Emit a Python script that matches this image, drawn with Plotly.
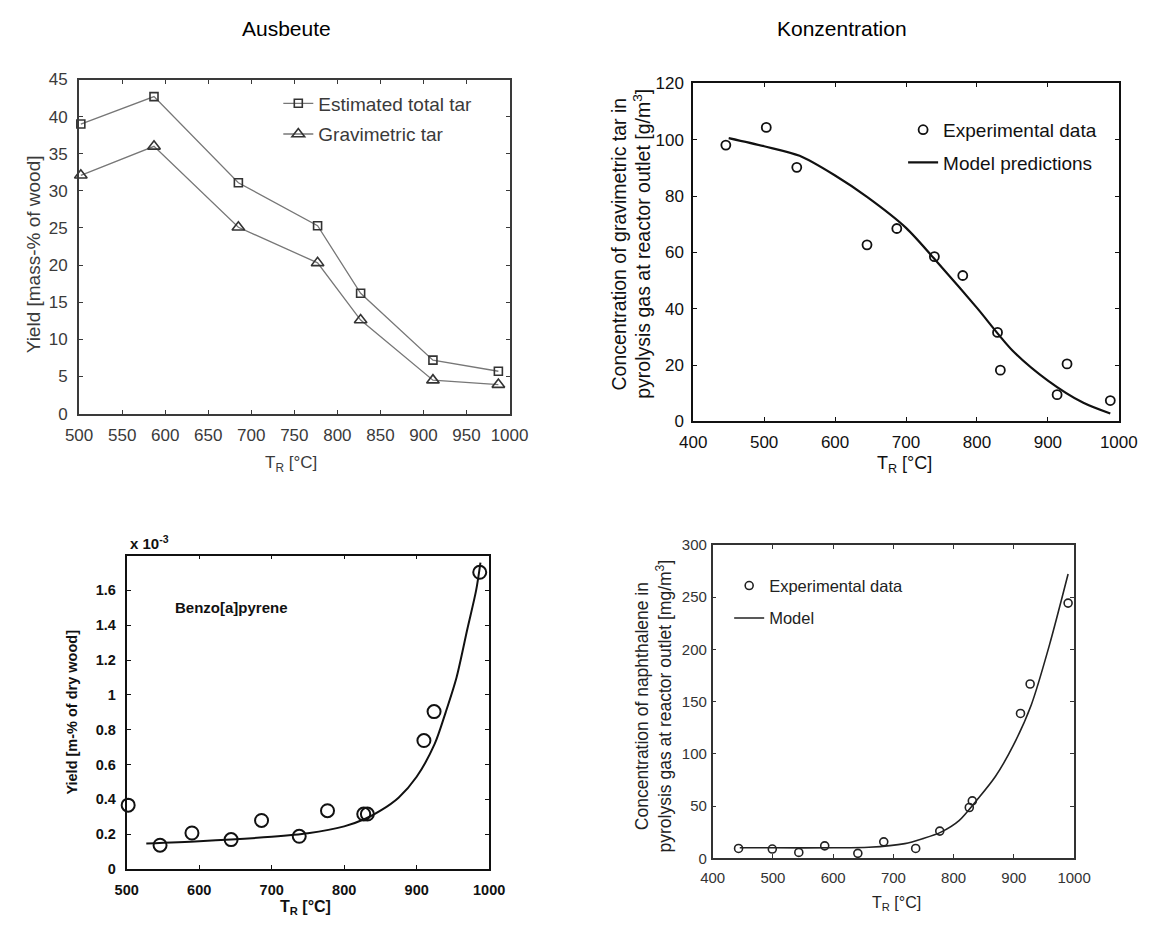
import plotly.graph_objects as go

W, H = 1166, 929

# ---- Ausbeute: tar yield vs reactor temperature ----
yield_T = [502, 587, 685, 777, 827, 911, 987]
total_tar = [39.0, 42.7, 31.1, 25.3, 16.2, 7.2, 5.7]
grav_tar = [32.1, 36.0, 25.1, 20.3, 12.6, 4.5, 3.9]

# ---- Konzentration: gravimetric tar concentration ----
conc_T = [446, 503, 546, 645, 687, 740, 780, 829, 833, 913, 927, 988]
conc_exp = [98.1, 104.4, 90.2, 62.7, 68.5, 58.5, 51.8, 31.6, 18.2, 9.5, 20.4, 7.4]
conc_model_T = [450, 500, 550, 600, 645, 700, 750, 800, 850, 900, 950, 988]
conc_model = [100.6, 97.7, 94.3, 87.3, 79.7, 68.7, 54.8, 40.3, 25.2, 14.5, 6.6, 2.8]

# ---- Benzo[a]pyrene yield (x 10^-3 m-% of dry wood) ----
bap_T = [502, 546, 590, 644, 686, 738, 777, 827, 832, 910, 924, 987]
bap_exp = [0.367, 0.137, 0.207, 0.169, 0.279, 0.188, 0.335, 0.316, 0.316, 0.738, 0.904, 1.704]
bap_model_T = [527, 600, 700, 750, 800, 830, 850, 875, 900, 925, 940, 955, 970, 982, 988]
bap_model = [0.147, 0.160, 0.185, 0.205, 0.245, 0.290, 0.335, 0.410, 0.530, 0.720, 0.900, 1.100, 1.380, 1.600, 1.760]

# ---- Naphthalene concentration (mg/m3) ----
naph_T = [443, 499, 543, 586, 641, 684, 737, 777, 826, 831, 911, 927, 990]
naph_exp = [9.4, 8.8, 5.6, 11.9, 4.7, 15.7, 9.4, 26.0, 48.6, 54.9, 138.6, 166.8, 244.2]
naph_model_T = [445, 500, 600, 659, 719, 749, 779, 809, 839, 869, 899, 929, 959, 990]
naph_model = [10, 10, 10, 10.5, 14, 18.8, 25, 36, 56, 78, 108, 147, 204, 272]

FONT = "Liberation Sans, Arial, sans-serif"


def px_x(x):
    return x / W


def px_y(y):
    return 1 - y / H


fig = go.Figure()

# Panel 1
fig.add_trace(go.Scatter(
    x=yield_T, y=total_tar, mode="lines+markers", name="Estimated total tar",
    line=dict(color="#777", width=1.3),
    marker=dict(symbol="square-open", size=8, color="#333", line=dict(width=1.6)),
    xaxis="x", yaxis="y", legend="legend", legendgroup="a", cliponaxis=False))
fig.add_trace(go.Scatter(
    x=yield_T, y=grav_tar, mode="lines+markers", name="Gravimetric tar",
    line=dict(color="#777", width=1.3),
    marker=dict(symbol="triangle-up-open", size=11, color="#333", line=dict(width=1.6)),
    xaxis="x", yaxis="y", legend="legend", legendgroup="b", cliponaxis=False))

# Panel 2
fig.add_trace(go.Scatter(
    x=conc_T, y=conc_exp, mode="markers", name="Experimental data",
    marker=dict(symbol="circle-open", size=9, color="#111", line=dict(width=1.8)),
    xaxis="x2", yaxis="y2", legend="legend2", legendgroup="c", cliponaxis=False))
fig.add_trace(go.Scatter(
    x=conc_model_T, y=conc_model, mode="lines", name="Model predictions",
    line=dict(color="#111", width=2.2, shape="spline", smoothing=0.8),
    xaxis="x2", yaxis="y2", legend="legend2", legendgroup="d"))

# Panel 3
fig.add_trace(go.Scatter(
    x=bap_T, y=bap_exp, mode="markers", name="Experimental data",
    marker=dict(symbol="circle-open", size=13, color="#111", line=dict(width=2)),
    xaxis="x3", yaxis="y3", showlegend=False, cliponaxis=False))
fig.add_trace(go.Scatter(
    x=bap_model_T, y=bap_model, mode="lines", name="Model",
    line=dict(color="#111", width=2, shape="spline", smoothing=0.8),
    xaxis="x3", yaxis="y3", showlegend=False))

# Panel 4
fig.add_trace(go.Scatter(
    x=naph_T, y=naph_exp, mode="markers", name="Experimental data",
    marker=dict(symbol="circle-open", size=8, color="#222", line=dict(width=1.6)),
    xaxis="x4", yaxis="y4", legend="legend4", legendgroup="e", cliponaxis=False))
fig.add_trace(go.Scatter(
    x=naph_model_T, y=naph_model, mode="lines", name="Model",
    line=dict(color="#222", width=1.6, shape="spline", smoothing=0.8),
    xaxis="x4", yaxis="y4", legend="legend4", legendgroup="f"))


def axis(dom, rng, tickvals, color, size, lw=1.6, standoff=6, bold=False, anchor=None):
    return dict(
        domain=dom, range=rng, tickvals=tickvals, anchor=anchor,
        showline=True, mirror="ticks", ticks="inside", ticklen=4, tickwidth=1.2,
        linecolor=color, linewidth=lw, tickcolor=color,
        showgrid=False, zeroline=False, ticklabelstandoff=standoff,
        tickfont=dict(family=FONT, size=size, color=color,
                      weight="bold" if bold else "normal"),
    )


fig.update_layout(
    width=W, height=H, autosize=False,
    margin=dict(l=0, r=0, t=0, b=0),
    paper_bgcolor="white", plot_bgcolor="white",
    font=dict(family=FONT),
    xaxis=axis([px_x(67), px_x(510)], [500, 1000], list(range(500, 1001, 50)),
               "#3a3a3a", 17, lw=2, standoff=5, anchor="y"),
    yaxis=axis([px_y(413), px_y(72)], [0, 45], list(range(0, 46, 5)),
               "#3a3a3a", 17, lw=2, standoff=6, anchor="x"),
    xaxis2=axis([px_x(699), px_x(1137)], [400, 1000], list(range(400, 1001, 100)),
                "#111", 17, lw=1.8, standoff=4, anchor="y2"),
    yaxis2=axis([px_y(421), px_y(76)], [0, 120], list(range(0, 121, 20)),
                "#111", 17, lw=1.8, standoff=4, anchor="x2"),
    xaxis3=axis([px_x(116), px_x(489)], [500, 1000], list(range(500, 1001, 100)),
                "#111", 14.5, lw=1.8, standoff=7, bold=True, anchor="y3"),
    yaxis3=axis([px_y(878), px_y(558)], [0, 1.8], [0, 0.2, 0.4, 0.6, 0.8, 1, 1.2, 1.4, 1.6],
                "#111", 14.5, lw=1.8, standoff=6, bold=True, anchor="x3"),
    xaxis4=axis([px_x(719), px_x(1091)], [400, 1000], list(range(400, 1001, 100)),
                "#333", 15, lw=1.6, standoff=5, anchor="y4"),
    yaxis4=axis([px_y(867), px_y(547)], [0, 300], list(range(0, 301, 50)),
                "#333", 15, lw=1.6, standoff=1, anchor="x4"),
    legend=dict(x=px_x(272), y=px_y(77), xanchor="left", yanchor="top",
                bgcolor="rgba(0,0,0,0)", tracegroupgap=3, itemwidth=30,
                font=dict(family=FONT, size=19, color="#3a3a3a")),
    legend2=dict(x=px_x(915), y=px_y(104), xanchor="left", yanchor="top",
                 bgcolor="rgba(0,0,0,0)", tracegroupgap=5, itemwidth=30,
                 font=dict(family=FONT, size=19, color="#111")),
    legend4=dict(x=px_x(736), y=px_y(571), xanchor="left", yanchor="top",
                 bgcolor="rgba(0,0,0,0)", tracegroupgap=8, itemwidth=30,
                 font=dict(family=FONT, size=16.5, color="#222")),
)

ann = []


def text(x, y, s, size, color="#111", angle=0, bold=False, xanchor="center"):
    ann.append(dict(
        x=px_x(x), y=px_y(y), xref="paper", yref="paper", text=s, showarrow=False,
        xanchor=xanchor, yanchor="middle", textangle=angle,
        font=dict(family=FONT, size=size, color=color, weight="bold" if bold else "normal")))


# Column headings
text(280, 20, "Ausbeute", 21, color="#000")
text(852, 20, "Konzentration", 21, color="#000")

# Panel 1 axis titles
text(20, 250, "Yield [mass-% of wood]", 19, color="#3a3a3a", angle=-90)
text(285, 464, "T<sub>R</sub> [°C]", 17, color="#3a3a3a")

# Panel 2 axis titles
text(623, 240, "Concentration of gravimetric tar in", 19.5, angle=-90)
text(646, 240, "pyrolysis gas at reactor outlet [g/m<sup>3</sup>]", 19.5, angle=-90)
text(916, 465, "T<sub>R</sub> [°C]", 18)

# Panel 3 axis titles and labels
text(60, 718, "Yield [m-% of dry wood]", 14.5, angle=-90, bold=True)
text(300, 917, "T<sub>R</sub> [°C]", 16, bold=True)
text(117, 545, "x 10<sup>-3</sup>", 15, bold=True, xanchor="left")
text(224, 611, "Benzo[a]pyrene", 15, bold=True)

# Panel 4 axis titles
text(647, 712, "Concentration of naphthalene in", 17.5, color="#222", angle=-90)
text(669, 712, "pyrolysis gas at reactor outlet [mg/m<sup>3</sup>]", 17.5, color="#222", angle=-90)
text(908, 913, "T<sub>R</sub> [°C]", 16, color="#222")

fig.update_layout(annotations=ann)

fig.write_html("out.html")
